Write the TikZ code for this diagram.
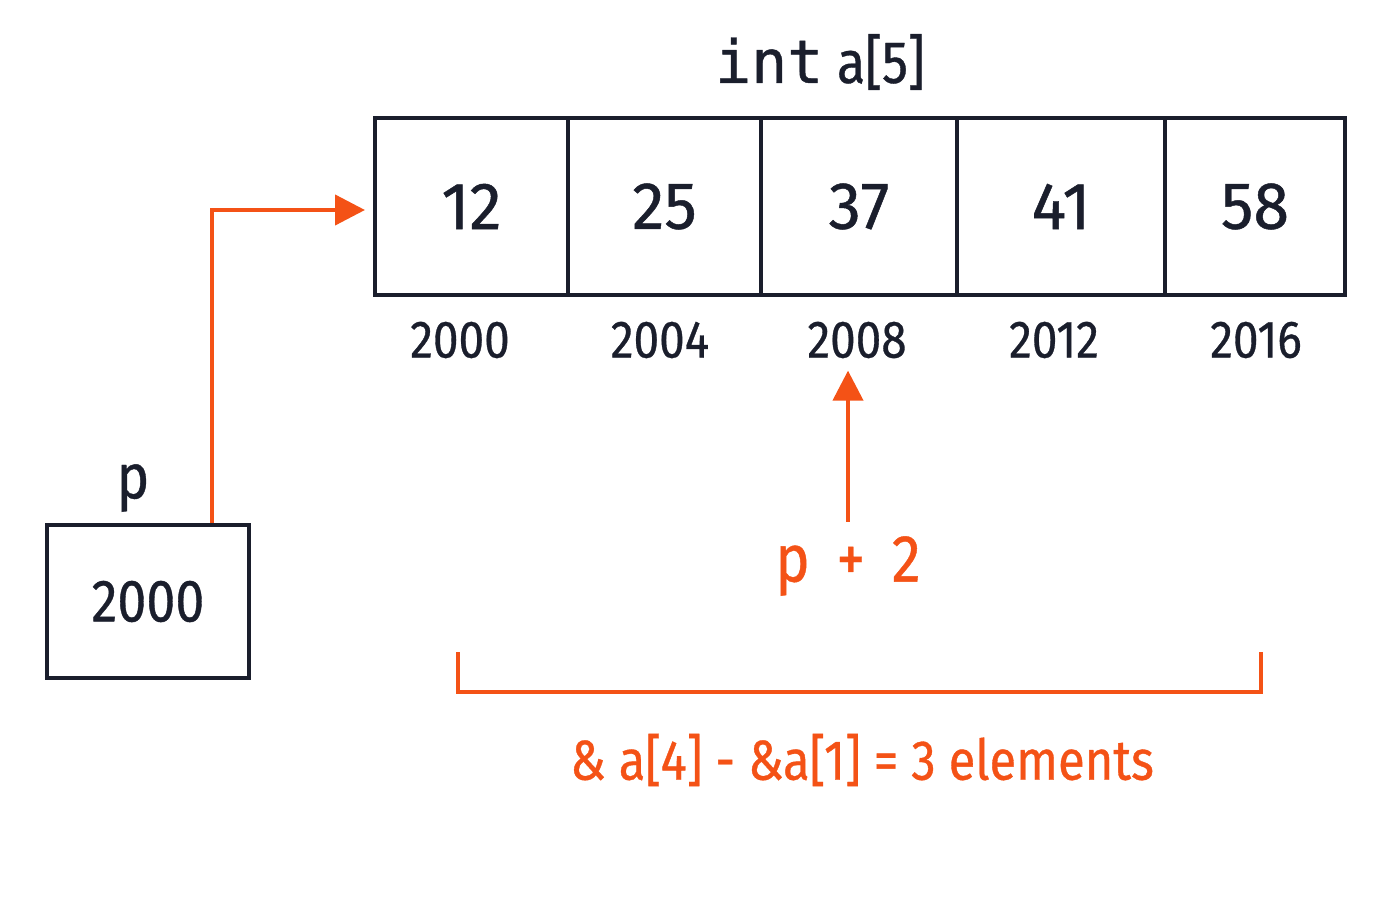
\documentclass[tikz,border=0pt]{standalone}
\usepackage{fontspec}
\setmainfont[FakeStretch=0.87,FakeBold=0.6]{Fira Sans}
\newfontfamily\numfont[FakeStretch=0.97,FakeBold=0.7]{Fira Sans}
\newfontfamily\codefont[FakeBold=0.8]{DejaVu Sans Mono}
\usepackage{tikz}
\usetikzlibrary{arrows.meta}
\usetikzlibrary{calc}
\definecolor{ink}{RGB}{26,30,44}
\definecolor{hot}{RGB}{244,82,22}

\begin{document}
\begin{tikzpicture}[cell/.style={shape=rectangle,draw=ink,line width=1.2pt,minimum height=1.77cm,inner sep=0pt,outer sep=0pt,font=\numfont\fontsize{19}{22}\selectfont\color{ink}},
addr/.style={font=\fontsize{15}{18}\selectfont\color{ink}},
hotline/.style={draw=hot,line width=1.2pt}]
\useasboundingbox (0,0) rectangle (14,9);
\draw (8.2,8.38) node (title) [font=\fontsize{17}{20}\selectfont\color{ink}] {{\codefont int} a[5]};
\draw (4.715,6.935) node (c1) [cell,minimum width=1.93cm] {12};
\draw (c1.east) ++(right:0.965cm) node (c2) [cell,minimum width=1.93cm] {25};
\draw (c2.east) ++(right:0.98cm) node (c3) [cell,minimum width=1.96cm] {37};
\draw (c3.east) ++(right:1.04cm) node (c4) [cell,minimum width=2.08cm] {41};
\draw (c4.east) ++(right:0.90cm) node (c5) [cell,minimum width=1.80cm] {58};
\draw (4.60,5.60) node (a1) [addr] {2000};
\draw (6.60,5.60) node (a2) [addr] {2004};
\draw (8.57,5.60) node (a3) [addr] {2008};
\draw (10.54,5.60) node (a4) [addr] {2012};
\draw (12.56,5.60) node (a5) [addr] {2016};
\draw (1.48,2.985) node (p) [shape=rectangle,draw=ink,line width=1.2pt,minimum width=2.02cm,minimum height=1.53cm,font=\fontsize{17}{20}\selectfont\color{ink}] {2000};
\draw (1.33,4.12) node (plabel) [font=\fontsize{18}{21}\selectfont\color{ink}] {p};
\coordinate (pout) at ($(p.north east)+(-0.39,0)$);
\coordinate (ptip) at ($(c1.west)+(-0.10,-0.035)$);
\draw [hotline,-{Triangle[length=3mm,width=3mm]}] (pout) |- (ptip);
\draw (8.48,3.34) node (p2) [font=\fontsize{19}{22}\selectfont\color{hot}] {p\ \,+\ \,2};
\draw [hotline,-{Triangle[length=3mm,width=3mm]}] (p2.north) ++(0,0.02) coordinate (p2top) -- (a3.south -| p2top);
\draw [hotline] (4.58,2.48) -- (4.58,2.08) -- (12.61,2.08) -- (12.61,2.48);
\draw (8.62,1.40) node (diff) [font=\fontsize{16}{19}\selectfont\color{hot}] {\& a[4] - \&a[1] = 3 elements};
\end{tikzpicture}
\end{document}
